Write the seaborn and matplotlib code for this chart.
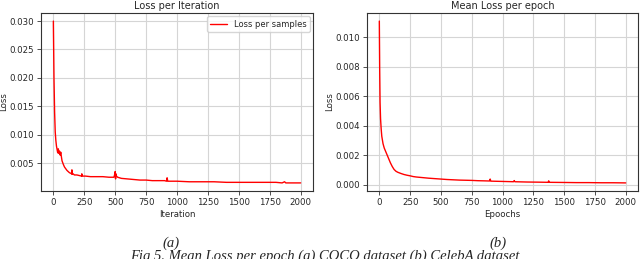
import matplotlib
matplotlib.use('Agg')
import matplotlib.pyplot as plt
import seaborn as sns

# loss per iteration (left panel)
iter_x = [0, 5, 10, 15, 20, 25, 30, 35, 40, 45, 50, 55, 60, 65, 70, 80, 90, 100,
          110, 120, 130, 140, 148, 150, 152, 160, 170, 190, 210, 228, 230, 232, 240,
          260, 300, 350, 400, 450, 490, 495, 500, 503, 506, 510, 520, 550, 600, 650,
          700, 750, 800, 850, 900, 915, 920, 925, 1000, 1100, 1200, 1300, 1400,
          1500, 1600, 1700, 1800, 1850, 1870, 1880, 1900, 2000]
iter_loss = [0.0300, 0.0200, 0.0140, 0.0105, 0.0090, 0.0080, 0.0074, 0.0068, 0.0075,
             0.0067, 0.0071, 0.0064, 0.0069, 0.0061, 0.0054, 0.0048, 0.0043, 0.0040,
             0.0037, 0.0035, 0.0033, 0.0032, 0.0031, 0.0038, 0.0030, 0.0031, 0.0029,
             0.0029, 0.0028, 0.0027, 0.0031, 0.0027, 0.0027, 0.0027, 0.0026, 0.0026,
             0.0026, 0.0025, 0.0025, 0.0029, 0.0035, 0.0022, 0.0031, 0.0027, 0.0025,
             0.0023, 0.0022, 0.0021, 0.0020, 0.0020, 0.0019, 0.0019, 0.0019, 0.0018,
             0.0024, 0.0018, 0.0018, 0.0017, 0.0017, 0.0017, 0.0016, 0.0016, 0.0016,
             0.0016, 0.0016, 0.0015, 0.0017, 0.0015, 0.0015, 0.0015]

# mean loss per epoch (right panel)
epoch_x = [0, 3, 6, 10, 15, 20, 30, 40, 50, 60, 75, 90, 105, 120, 135, 150, 175,
           200, 225, 250, 275, 300, 350, 400, 450, 500, 550, 600, 650, 700, 750,
           800, 850, 895, 900, 905, 950, 1000, 1090, 1095, 1100, 1200, 1300, 1370,
           1375, 1380, 1500, 1600, 1700, 1800, 1900, 2000]
epoch_loss = [0.0111, 0.0078, 0.0056, 0.0045, 0.0038, 0.0033, 0.0028, 0.0025,
              0.0023, 0.0021, 0.0018, 0.0015, 0.00125, 0.00105, 0.00093, 0.00086,
              0.00078, 0.00071, 0.00066, 0.00062, 0.00057, 0.00054, 0.00050,
              0.00046, 0.00043, 0.00040, 0.00037, 0.00035, 0.00033, 0.00032,
              0.00031, 0.00029, 0.00028, 0.00027, 0.00040, 0.00026, 0.00025,
              0.00024, 0.00022, 0.00030, 0.00022, 0.00020, 0.00019, 0.00018,
              0.00028, 0.00018, 0.00017, 0.00016, 0.00016, 0.00015, 0.00015, 0.00014]

sns.set_style('whitegrid', {'axes.edgecolor': '#333333', 'grid.color': '#d5d5d5',
                            'xtick.bottom': True, 'ytick.left': True})
plt.rcParams['font.family'] = ['DejaVu Sans']

fig = plt.figure(figsize=(6.4, 2.59), dpi=100)
ax1 = fig.add_axes([41 / 640, 1 - 191 / 259, 272 / 640, 178 / 259])
ax2 = fig.add_axes([367 / 640, 1 - 191 / 259, 271 / 640, 178 / 259])

sns.lineplot(x=iter_x, y=iter_loss, color='red', linewidth=1.0, ax=ax1,
             label='Loss per samples')
ax1.set_title('Loss per Iteration', fontsize=7, pad=3)
ax1.set_xlabel('Iteration', fontsize=6.2, labelpad=2)
ax1.set_ylabel('Loss', fontsize=6.2, labelpad=1)
ax1.legend(loc='upper right', fontsize=6, frameon=True, handlelength=2.0,
           borderaxespad=0.4)
ax1.set_xticks([0, 250, 500, 750, 1000, 1250, 1500, 1750, 2000])
ax1.set_yticks([0.005, 0.010, 0.015, 0.020, 0.025, 0.030])

sns.lineplot(x=epoch_x, y=epoch_loss, color='red', linewidth=1.0, ax=ax2)
ax2.set_title('Mean Loss per epoch', fontsize=7, pad=3)
ax2.set_xlabel('Epoochs', fontsize=6.2, labelpad=2)
ax2.set_ylabel('Loss', fontsize=6.2, labelpad=1)
ax2.set_xticks([0, 250, 500, 750, 1000, 1250, 1500, 1750, 2000])

for ax in (ax1, ax2):
    ax.tick_params(labelsize=6.2, length=3, width=0.6, pad=2, color='#333333')
    ax.yaxis.set_major_formatter(matplotlib.ticker.FormatStrFormatter('%.3f'))
    for s in ax.spines.values():
        s.set_linewidth(0.8)
    ax.grid(True, linewidth=0.8)

fig.text(171 / 640, 1 - 243 / 259, '(a)', fontsize=10.5, style='italic',
         family='Liberation Serif', ha='center', va='center')
fig.text(498 / 640, 1 - 243 / 259, '(b)', fontsize=10.5, style='italic',
         family='Liberation Serif', ha='center', va='center')
fig.text(325 / 640, 1 - 263 / 259,
         'Fig 5. Mean Loss per epoch (a) COCO dataset (b) CelebA dataset',
         fontsize=10.5, style='italic', family='Liberation Serif',
         ha='center', va='bottom')

fig.savefig('out.png', dpi=100)
